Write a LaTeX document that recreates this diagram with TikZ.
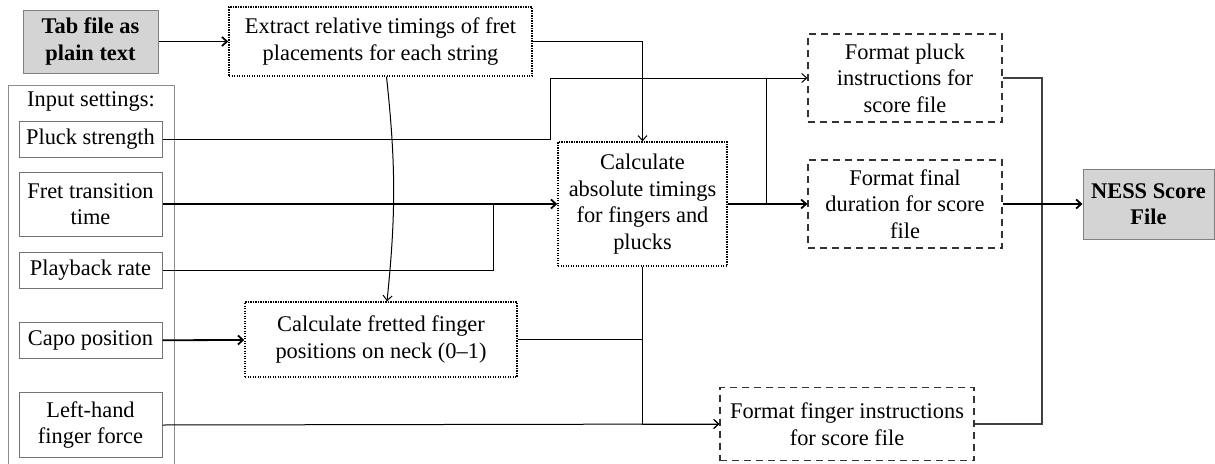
\documentclass[tikz,border=0pt]{standalone}
\usepackage{fontspec}
\setmainfont{Liberation Serif}
\usepackage{tikz}
\usetikzlibrary{arrows.meta}

\begin{document}
\begin{tikzpicture}[
  x=1pt, y=-1pt,
  font=\fontsize{22.4}{26.5}\selectfont,
  every node/.style={inner sep=0pt, align=center},
  source/.style={draw=black!50, line width=1pt, fill=black!17, font=\fontsize{22.4}{26.5}\selectfont\bfseries},
  setting/.style={draw=black!55, line width=1pt, minimum width=143pt},
  calc/.style={draw, line width=1.4pt, dash pattern=on 1.4pt off 1.1pt},
  fmt/.style={draw=black!80, line width=1.1pt, dash pattern=on 7pt off 5pt},
  thin/.style={line width=1pt},
  thick/.style={line width=1.8pt},
  arrow/.style={-{Straight Barb[length=5pt,width=9pt]}}]
\useasboundingbox (0,0) rectangle (1215,463);
% inputs
\node[source, minimum width=135pt, minimum height=63pt] (tab) at (90.5,41.5) {Tab file as\\plain text};
\draw[black!45, line width=1pt] (8,470) -- (8,85) -- (174,85) -- (174,470);
\node (settings) at (91,101) {Input settings:};
\node[setting, minimum height=36pt] (pluck) at (90.5,139) {Pluck strength};
\node[setting, minimum height=64pt] (fret) at (90.5,204) {Fret transition\\time};
\node[setting, minimum height=36pt] (playback) at (90.5,270.5) {Playback rate};
\node[setting, minimum height=36pt] (capo) at (90.5,340.5) {Capo position};
\node[setting, minimum height=65pt] (lefthand) at (90.5,425) {Left-hand\\finger force};
% processing
\node[calc, minimum width=303pt, minimum height=69pt] (extract) at (380.5,41.5) {Extract relative timings of fret\\placements for each string};
\node[calc, minimum width=169pt, minimum height=124pt] (absolute) at (642.5,204) {Calculate\\absolute timings\\for fingers and\\plucks};
\node[calc, minimum width=272pt, minimum height=75pt] (fretted) at (381,339.5) {Calculate fretted finger\\positions on neck (0--1)};
% score file parts
\node[fmt, minimum width=194pt, minimum height=88pt] (fmtpluck) at (905,78) {Format pluck\\instructions for\\score file};
\node[fmt, minimum width=194pt, minimum height=88pt] (fmtfinal) at (905,204) {Format final\\duration for score\\file};
\node[fmt, minimum width=254pt, minimum height=73pt] (fmtfinger) at (847,424) {Format finger instructions\\for score file};
\node[source, minimum width=131pt, minimum height=70pt] (ness) at (1148.5,204) {NESS Score\\File};
% junctions
\coordinate (jog) at (550,78);
\coordinate (merge) at (493,204);
\coordinate (split) at (766,204);
\coordinate (collect) at (1042,204);
% connectors
\draw[thick, arrow] (tab) -- (extract);
\draw[thin, arrow] (extract.east) -| (absolute.north);
\draw[thin, arrow] ([xshift=6pt]extract.south) to[bend left=6] ([xshift=6pt]fretted.north);
\draw[thin, arrow] (pluck.east) -| (jog) -- (fmtpluck.west);
\draw[thick, arrow] (fret) -- (absolute);
\draw[thin] (playback.east) -| (merge);
\draw[thick, arrow] (capo) -- (fretted);
\draw[thin, arrow] (lefthand.east) -- (fmtfinger.west);
\draw[thick, arrow] (absolute.east) -- (fmtfinal.west);
\draw[thin] (split) -- (split |- fmtpluck.west);
\draw[thin, arrow] (absolute.south) |- (fmtfinger.west);
\draw[thin] (fretted.east) -- (fretted.east -| absolute.south);
\draw[black!75, line width=1.3pt] (fmtpluck.east) -| (collect) |- (fmtfinger.east);
\draw[thick, arrow] (fmtfinal) -- (ness);
\end{tikzpicture}
\end{document}
